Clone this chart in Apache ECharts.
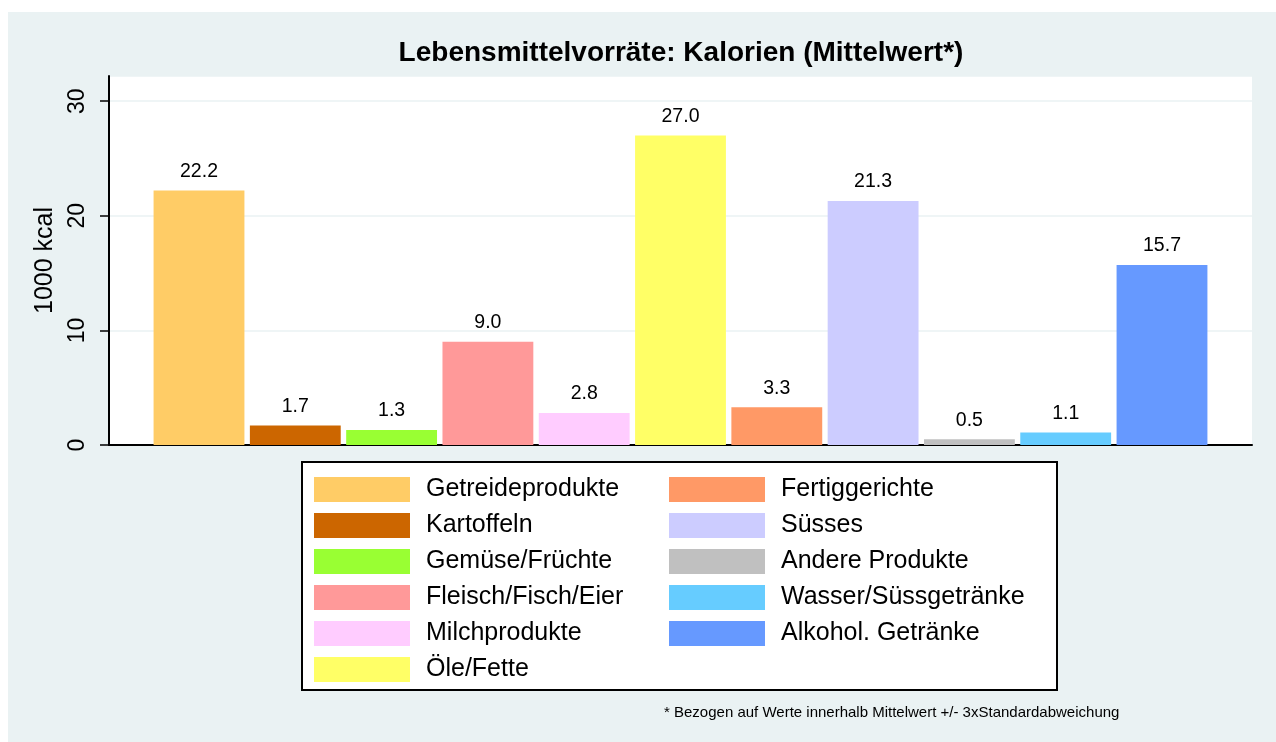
<!DOCTYPE html>
<html>
<head>
<meta charset="utf-8">
<script src="https://cdn.jsdelivr.net/npm/echarts@6/dist/echarts.min.js"></script>
<style>
  html, body { margin: 0; padding: 0; background: #fff; }
  #bg { position: absolute; left: 8px; top: 12px; width: 1268px; height: 730px; background: #eaf2f3; }
  #chart { position: absolute; left: 0; top: 0; width: 1276px; height: 742px; }
</style>
</head>
<body>
<div id="bg"></div>
<div id="chart"></div>
<script>
// Kategorien (Legende)
var categories = [
  "Getreideprodukte", "Kartoffeln", "Gemüse/Früchte", "Fleisch/Fisch/Eier",
  "Milchprodukte", "Öle/Fette", "Fertiggerichte", "Süsses",
  "Andere Produkte", "Wasser/Süssgetränke", "Alkohol. Getränke"
];
// Mittelwerte in 1000 kcal
var values = [22.2, 1.7, 1.3, 9.0, 2.8, 27.0, 3.3, 21.3, 0.5, 1.1, 15.7];
var colors = [
  "#ffcc66", "#cc6600", "#99ff33", "#ff9999", "#ffccff", "#ffff66",
  "#ff9966", "#ccccff", "#c0c0c0", "#66ccff", "#6699ff"
];
var yTicks = [0, 10, 20, 30];

var font = "'Liberation Sans', Arial, sans-serif";
var myChart = echarts.init(document.getElementById("chart"));

var series = categories.map(function (name, i) {
  return {
    name: name,
    type: "bar",
    data: [values[i]],
    itemStyle: { color: colors[i] },
    barGap: "6%",
    barCategoryGap: "7.8%",
    label: {
      show: true,
      position: "top",
      distance: 9,
      fontFamily: font,
      fontSize: 19.5,
      color: "#000",
      formatter: function (p) { return p.value.toFixed(1); }
    }
  };
});

var legendStyle = {
  orient: "vertical",
  icon: "rect",
  itemWidth: 96,
  itemHeight: 25,
  itemGap: 11,
  padding: 0,
  selectedMode: false,
  textStyle: {
    fontFamily: font,
    fontSize: 25,
    color: "#000",
    lineHeight: 25,
    padding: [0, 0, 0, 11]
  }
};

var option = {
  backgroundColor: "transparent",
  animation: false,
  title: [
    {
      text: "Lebensmittelvorräte: Kalorien (Mittelwert*)",
      left: 681,
      top: 39,
      padding: 0,
      textAlign: "center",
      textStyle: { fontFamily: font, fontSize: 28, fontWeight: "bold", color: "#000" }
    },
    {
      text: "* Bezogen auf Werte innerhalb Mittelwert +/- 3xStandardabweichung",
      left: 664,
      top: 705,
      padding: 0,
      textStyle: { fontFamily: font, fontSize: 15, fontWeight: "normal", color: "#000" }
    }
  ],
  legend: [
    Object.assign({ data: categories.slice(0, 6), left: 314, top: 477 }, legendStyle),
    Object.assign({ data: categories.slice(6), left: 669, top: 477 }, legendStyle)
  ],
  graphic: [
    {
      type: "rect",
      shape: { x: 302, y: 462, width: 755, height: 228 },
      style: { fill: "#fff", stroke: "#000", lineWidth: 2 },
      z: -1
    }
  ],
  grid: {
    left: 109,
    right: 24,
    top: 76,
    bottom: 297,
    show: true,
    backgroundColor: "#fff",
    borderWidth: 0
  },
  xAxis: {
    type: "category",
    data: [""],
    axisLine: { show: true, lineStyle: { color: "#000", width: 2 } },
    axisTick: { show: false },
    axisLabel: { show: false }
  },
  yAxis: {
    type: "value",
    min: yTicks[0],
    max: 32.2,
    interval: 10,
    name: "1000 kcal",
    nameLocation: "middle",
    nameGap: 47,
    nameTextStyle: { fontFamily: font, fontSize: 25, color: "#000" },
    axisLine: { show: true, lineStyle: { color: "#000", width: 2 } },
    axisTick: { show: true, length: 9, lineStyle: { color: "#000", width: 1.5 } },
    axisLabel: {
      rotate: 90,
      margin: 20,
      fontFamily: font,
      fontSize: 23,
      color: "#000",
      showMaxLabel: false
    },
    splitLine: { show: true, lineStyle: { color: "#eaf2f3", width: 1.5 } }
  },
  series: series
};

myChart.setOption(option);
</script>
</body>
</html>
